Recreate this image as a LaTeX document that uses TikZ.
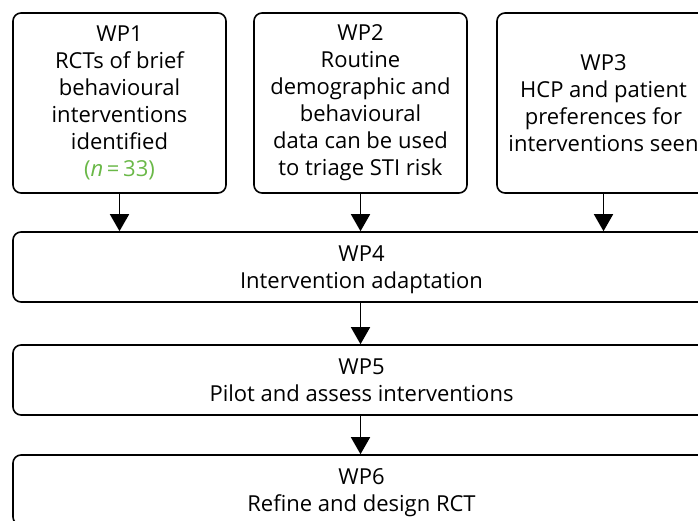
\documentclass[tikz,border=0pt]{standalone}
\usepackage{fontspec}
\setmainfont{Open Sans}
\usepackage{xcolor}
\usetikzlibrary{arrows.meta}

\definecolor{countgreen}{RGB}{106,184,72}

\begin{document}
\begin{tikzpicture}[x=1pt, y=-1pt,
  wpbox/.style={draw, line width=1.6pt, rounded corners=8pt, align=center,
    inner sep=0pt, font=\fontsize{22}{27}\selectfont},
  topbox/.style={wpbox, minimum width=213pt, minimum height=180pt},
  widebox/.style={wpbox, minimum width=697pt, minimum height=70pt, text depth=-6pt},
  wparrow/.style={-{Triangle[width=19pt, length=17pt]}, line width=1.6pt}]
\clip (0, 0) rectangle (698, 520);
\useasboundingbox (0, 0) rectangle (698, 520);

% work packages feeding in
\node[topbox] (wp1) at (119.5, 103)
  {WP1\\RCTs of brief\\behavioural\\interventions\\identified\\
   \leavevmode\textcolor{countgreen}{(\textit{n}\,=\,33)}};
\node[topbox] (wp2) at (360.5, 103)
  {WP2\\Routine\\demographic and\\behavioural\\data can be used\\to triage STI risk};
\node[topbox] (wp3) at (603.5, 103)
  {WP3\\HCP and patient\\preferences for\\interventions seen};

% main line
\node[widebox] (wp4) at (361.5, 267) {WP4\\Intervention adaptation};
\node[widebox] (wp5) at (361.5, 380) {WP5\\Pilot and assess interventions};
\node[widebox] (wp6) at (361.5, 490) {WP6\\Refine and design RCT};

\draw[wparrow] (wp1.south) -- (wp1.south |- wp4.north);
\draw[wparrow] (wp2.south) -- (wp2.south |- wp4.north);
\draw[wparrow] (wp3.south) -- (wp3.south |- wp4.north);
\draw[wparrow] (wp4.south -| wp2.south) -- (wp5.north -| wp2.south);
\draw[wparrow] (wp5.south -| wp2.south) -- (wp6.north -| wp2.south);
\end{tikzpicture}
\end{document}
